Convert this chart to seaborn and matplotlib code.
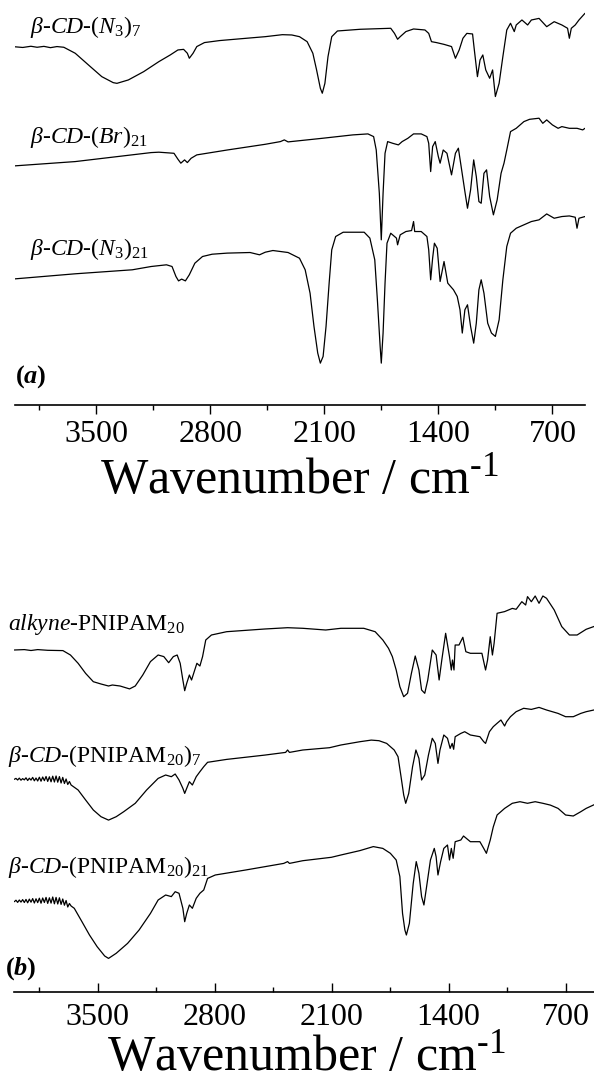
import matplotlib
matplotlib.use("Agg")
import matplotlib.pyplot as plt
import seaborn as sns
import pandas as pd

# ---------------------------------------------------------------------------
# FT-IR spectra (wavenumber in cm^-1, transmittance in stacked arbitrary units)
# ---------------------------------------------------------------------------

# (a) beta-CD-(N3)7
wn_cd_n3_7 = [4000, 3950, 3900, 3862, 3820, 3780, 3740, 3698, 3628, 3535, 3465, 3395, 3372,
              3302, 3208, 3115, 3045, 2998, 2963, 2940, 2928, 2905, 2882, 2835, 2742,
              2578, 2462, 2357, 2299, 2252, 2205, 2170, 2147, 2124, 2112, 2096, 2077,
              2054, 2019, 1879, 1692, 1669, 1650, 1634, 1599, 1552, 1482, 1459, 1442,
              1412, 1365, 1319, 1295, 1272, 1249, 1225, 1190, 1179, 1160, 1144, 1127,
              1109, 1085, 1067, 1050, 1027, 1004, 980, 957, 934, 922, 887, 852, 829,
              782, 735, 689, 642, 607, 596, 584, 560, 537, 500]
t_cd_n3_7 = [358.2, 357.5, 358.7, 357.7, 358.6, 357.3, 358.4, 357.7, 351.7, 338.3, 328.3, 322.3, 321.6,
             325.0, 333.3, 343.3, 350.0, 355.0, 355.6, 351.7, 346.7, 351.7, 358.4, 362.4, 364.4,
             366.7, 368.3, 370.3, 370.0, 368.3, 363.3, 351.7, 335.0, 316.7, 311.7, 321.6, 348.3,
             368.3, 374.0, 375.7, 376.7, 371.6, 365.7, 368.3, 373.4, 376.0, 375.0, 371.6, 363.3,
             362.4, 360.6, 358.4, 346.7, 355.0, 366.7, 371.6, 371.0, 355.0, 328.3, 345.0, 350.0,
             335.0, 326.7, 335.0, 308.4, 321.6, 348.3, 375.0, 381.7, 373.4, 380.0, 385.0, 380.0, 385.0,
             386.6, 378.3, 383.3, 380.0, 376.7, 366.7, 376.7, 380.0, 385.0, 391.7]

# (a) beta-CD-(Br)21
wn_cd_br_21 = [4000, 3628, 3162, 3115, 3022, 2998, 2980, 2957, 2940, 2917, 2882, 2695,
               2462, 2369, 2345, 2322, 2112, 1925, 1832, 1797, 1781, 1762, 1750, 1739,
               1727, 1711, 1680, 1645, 1622, 1587, 1552, 1505, 1470, 1459, 1447, 1435,
               1419, 1400, 1389, 1370, 1347, 1319, 1295, 1277, 1260, 1237, 1221, 1202,
               1183, 1167, 1151, 1137, 1120, 1104, 1085, 1062, 1039, 1015, 997, 980, 957,
               922, 875, 840, 782, 759, 735, 700, 665, 642, 596, 549, 514, 500]
t_cd_br_21 = [239.0, 243.3, 252.3, 252.7, 251.6, 245.7, 241.7, 245.0, 242.3, 246.6, 250.0, 254.9,
              260.6, 263.3, 265.0, 263.0, 266.6, 270.0, 271.0, 268.3, 254.9, 211.6, 165.0, 211.6,
              251.6, 263.3, 261.6, 260.0, 263.3, 266.6, 271.0, 271.0, 268.3, 261.6, 233.3, 258.3,
              263.3, 248.3, 241.7, 254.9, 251.6, 230.0, 251.6, 256.7, 238.3, 213.3, 196.6, 215.0,
              245.0, 228.3, 203.3, 201.6, 231.6, 235.0, 208.3, 190.0, 205.0, 231.6, 241.7, 254.9, 273.3,
              276.6, 283.3, 285.6, 286.7, 281.6, 285.0, 280.0, 276.6, 278.3, 276.6, 276.6, 275.0, 276.6]

# (a) beta-CD-(N3)21
wn_cd_n3_21 = [4000, 3628, 3278, 3162, 3068, 3034, 3010, 2994, 2975, 2952, 2928, 2894,
               2847, 2788, 2695, 2555, 2497, 2462, 2415, 2322, 2252, 2217, 2187, 2163,
               2140, 2124, 2107, 2089, 2070, 2054, 2030, 1984, 1855, 1820, 1790, 1774,
               1757, 1750, 1739, 1727, 1715, 1692, 1657, 1650, 1634, 1599, 1564, 1552,
               1545, 1505, 1470, 1459, 1447, 1435, 1424, 1407, 1389, 1365, 1342, 1307,
               1284, 1267, 1253, 1237, 1221, 1202, 1183, 1167, 1151, 1137, 1120, 1097,
               1074, 1050, 1027, 1004, 980, 957, 922, 875, 829, 782, 735, 689, 642, 596,
               560, 549, 537, 500]
t_cd_n3_21 = [125.9, 131.0, 135.0, 138.3, 140.0, 138.3, 128.3, 123.9, 125.7, 123.9, 130.0, 141.6,
              148.3, 150.6, 151.7, 152.3, 150.0, 152.6, 154.3, 152.3, 146.6, 135.0, 111.6, 78.3,
              51.7, 41.6, 48.3, 78.3, 121.6, 155.0, 168.3, 172.6, 172.6, 166.7, 145.0, 105.0,
              58.3, 41.6, 71.7, 121.6, 161.6, 171.6, 166.7, 160.0, 170.0, 173.3, 174.3, 183.3,
              173.3, 173.3, 168.3, 155.0, 125.0, 146.6, 161.6, 156.6, 123.3, 143.3, 121.6, 115.0,
              108.3, 95.0, 71.7, 95.0, 100.0, 78.3, 61.6, 81.6, 115.0, 125.0, 111.6, 81.6,
              71.7, 68.3, 84.9, 125.0, 158.3, 171.6, 176.6, 180.0, 183.3, 185.0, 190.9, 186.6, 188.3, 188.9,
              187.6, 176.6, 186.6, 188.3]

# (b) alkyne-PNIPAM20
wn_alk_pnipam = [4000, 3940, 3900, 3860, 3800, 3709, 3664, 3618, 3573, 3527, 3481, 3436,
                 3413, 3367, 3310, 3276, 3231, 3185, 3139, 3105, 3076, 3048, 3025, 3007,
                 2991, 2980, 2968, 2952, 2939, 2923, 2907, 2889, 2873, 2854, 2820, 2729,
                 2501, 2364, 2273, 2136, 2045, 1908, 1840, 1794, 1760, 1737, 1714, 1692,
                 1669, 1646, 1623, 1600, 1578, 1562, 1543, 1525, 1498, 1475, 1457, 1441,
                 1418, 1395, 1384, 1377, 1368, 1361, 1338, 1315, 1297, 1270, 1201, 1179,
                 1167, 1151, 1138, 1128, 1110, 1065, 1019, 996, 962, 939, 928, 905, 882,
                 859, 836, 814, 768, 723, 677, 631, 577, 520]
t_alk_pnipam = [342.0, 342.4, 341.5, 342.4, 341.7, 341.4, 337.0, 328.7, 318.6, 310.3, 308.0, 306.0,
                307.0, 306.0, 303.1, 306.0, 317.0, 330.4, 337.0, 335.4, 329.3, 335.4, 337.0, 328.7,
                312.0, 301.3, 308.7, 317.0, 312.0, 320.4, 328.7, 326.0, 335.4, 352.0, 357.0, 360.3,
                363.0, 364.3, 363.7, 362.0, 363.7, 363.7, 360.3, 352.0, 343.7, 335.4, 322.0, 305.3,
                295.3, 298.7, 318.6, 336.0, 322.0, 302.0, 298.7, 312.0, 342.0, 337.0, 312.0, 332.0,
                358.7, 335.4, 322.0, 332.0, 322.0, 347.0, 347.0, 354.7, 340.3, 338.7, 338.7, 322.0,
                332.0, 355.3, 337.0, 348.6, 378.7, 380.4, 383.6, 382.7, 390.3, 387.0, 395.4, 390.3, 396.0,
                388.7, 396.0, 393.7, 382.0, 365.4, 357.0, 357.0, 362.7, 366.1]

# (b) beta-CD-(PNIPAM20)7
wn_cd_pnipam_7 = [4000, 3990, 3980, 3970, 3960, 3950, 3940, 3930, 3920, 3910, 3900, 3890,
                  3880, 3870, 3860, 3850, 3840, 3830, 3820, 3810, 3800, 3790, 3780, 3770,
                  3760, 3750, 3740, 3730, 3720, 3710, 3700, 3690, 3680, 3670, 3660,
                  3618, 3573, 3527, 3481, 3436, 3390, 3345, 3276, 3208,
                  3139, 3094, 3060, 3037, 3014, 2991, 2980, 2968, 2952, 2934, 2911, 2889,
                  2866, 2843, 2729, 2501, 2376, 2364, 2353, 2273, 2113, 2045, 1931, 1863,
                  1817, 1771, 1726, 1703, 1685, 1669, 1657, 1639, 1616, 1596, 1578, 1562,
                  1543, 1521, 1498, 1480, 1464, 1452, 1429, 1407, 1391, 1379, 1370, 1361,
                  1327, 1304, 1270, 1213, 1190, 1179, 1156, 1133, 1110, 1087, 1065, 1053,
                  1030, 996, 951, 905, 859, 814, 745, 700, 654, 609, 577, 520]
t_cd_pnipam_7 = [212.7, 213.6, 212.0, 213.9, 211.8, 213.4, 212.1, 214.2, 211.5, 213.8, 211.9, 214.6,
                 211.2, 214.0, 211.0, 214.8, 210.8, 215.0, 211.3, 215.5, 210.6, 215.2, 210.2, 215.8,
                 210.0, 216.0, 209.8, 215.4, 209.0, 214.6, 208.5, 213.0, 207.5, 210.5, 207.0,
                 202.0, 192.0, 182.0, 175.3, 171.9, 175.3, 180.3, 188.7, 202.0,
                 213.6, 217.0, 215.3, 218.0, 212.0, 203.7, 198.6, 203.7, 210.3, 207.0, 215.3, 220.3,
                 225.3, 229.7, 232.6, 236.9, 239.6, 242.0, 239.6, 242.0, 244.3, 247.0, 250.3, 251.9,
                 251.3, 248.6, 242.0, 235.3, 215.3, 197.0, 188.7, 198.6, 225.3, 242.0, 233.6, 212.0,
                 217.0, 236.9, 253.7, 248.6, 228.6, 242.0, 257.0, 253.7, 243.6, 248.6, 242.7, 255.3,
                 258.6, 260.3, 257.0, 255.3, 250.3, 248.6, 260.3, 265.3, 268.7, 272.0, 266.0, 270.3,
                 275.3, 280.3, 283.7, 282.6, 284.6, 282.0, 278.6, 275.3, 275.3, 278.6, 280.3, 282.4]

# (b) beta-CD-(PNIPAM20)21
wn_cd_pnipam_21 = [4000, 3990, 3980, 3970, 3960, 3950, 3940, 3930, 3920, 3910, 3900, 3890,
                   3880, 3870, 3860, 3850, 3840, 3830, 3820, 3810, 3800, 3790, 3780, 3770,
                   3760, 3750, 3740, 3730, 3720, 3710, 3700, 3690, 3680, 3670, 3660,
                   3641, 3595, 3550, 3504, 3459, 3436, 3390, 3322, 3253,
                   3185, 3139, 3094, 3060, 3037, 3014, 2991, 2980, 2968, 2952, 2934, 2911,
                   2889, 2866, 2843, 2797, 2615, 2387, 2364, 2353, 2273, 2102, 2045, 1931,
                   1851, 1794, 1749, 1714, 1692, 1676, 1662, 1653, 1635, 1612, 1594, 1578,
                   1562, 1548, 1532, 1509, 1486, 1475, 1464, 1448, 1429, 1407, 1395, 1384,
                   1373, 1361, 1327, 1311, 1270, 1213, 1190, 1174, 1151, 1133, 1110, 1065,
                   1019, 973, 928, 882, 836, 791, 745, 700, 654, 609, 577, 520]
t_cd_pnipam_21 = [90.3, 91.8, 89.6, 92.0, 89.9, 92.4, 89.5, 92.6, 89.2, 92.9, 89.8, 93.4,
                  89.0, 93.2, 89.4, 93.8, 88.8, 94.0, 89.5, 94.6, 88.6, 94.2, 88.9, 95.0,
                  88.2, 94.6, 88.0, 94.2, 87.6, 93.0, 86.8, 91.5, 85.0, 88.5, 86.0,
                  83.7, 70.3, 57.0, 45.3, 36.0, 33.6, 38.7, 48.6, 62.0,
                  78.6, 92.0, 97.0, 95.4, 100.3, 98.7, 83.7, 70.3, 78.6, 87.0, 83.7, 93.7,
                  98.7, 102.0, 113.6, 117.0, 122.0, 128.6, 130.4, 128.6, 131.3, 134.7, 137.0, 141.4,
                  145.4, 143.6, 138.7, 132.0, 115.4, 78.6, 62.0, 57.0, 68.7, 108.7, 130.4, 118.7,
                  95.4, 87.0, 105.3, 132.0, 143.6, 135.3, 117.0, 130.4, 143.6, 147.0, 132.0, 143.6,
                  133.7, 150.3, 152.0, 156.0, 150.3, 150.3, 143.6, 138.7, 152.0, 165.0, 177.0, 183.6,
                  188.7, 190.3, 188.7, 190.3, 188.7, 186.9, 183.6, 177.0, 176.0, 180.3, 183.6, 188.0]

# Panel contents: (wavenumbers, transmittance, label, label position)
panel_a = [
    (wn_cd_n3_7, t_cd_n3_7, r"$\beta$-$CD$-($N_3$)$_7$", (3905, 372)),
    (wn_cd_br_21, t_cd_br_21, r"$\beta$-$CD$-($Br$)$_{21}$", (3905, 262)),
    (wn_cd_n3_21, t_cd_n3_21, r"$\beta$-$CD$-($N_3$)$_{21}$", (3905, 150)),
]
panel_b = [
    (wn_alk_pnipam, t_alk_pnipam, r"$alkyne$-PNIPAM$_{20}$", (4040, 362)),
    (wn_cd_pnipam_7, t_cd_pnipam_7, r"$\beta$-$CD$-(PNIPAM$_{20}$)$_7$", (4040, 230)),
    (wn_cd_pnipam_21, t_cd_pnipam_21, r"$\beta$-$CD$-(PNIPAM$_{20}$)$_{21}$", (4040, 119)),
]

major_ticks = [3500, 2800, 2100, 1400, 700]
minor_ticks = [3850, 3150, 2450, 1750, 1050]
tick_labels = ["3500", "2800", "2100", "1400", "700"]
x_title = r"Wavenumber / cm$^{\text{-}1}$"

sns.set_theme(style="white")
plt.rcParams["font.family"] = ["Liberation Serif", "DejaVu Serif"]
plt.rcParams["text.color"] = "black"
plt.rcParams["axes.labelcolor"] = "black"
plt.rcParams["xtick.color"] = "black"
plt.rcParams["xtick.labelcolor"] = "black"
plt.rcParams["mathtext.fontset"] = "custom"
plt.rcParams["mathtext.rm"] = "Liberation Serif"
plt.rcParams["mathtext.it"] = "Liberation Serif:italic"
plt.rcParams["mathtext.bf"] = "Liberation Serif:bold"
plt.rcParams["mathtext.bfit"] = "Liberation Serif:bold:italic"

W, H = 594, 1090
fig = plt.figure(figsize=(W / 100, H / 100), dpi=100)

ax_a = fig.add_axes([14.6 / W, 1 - 404.7 / H, (585 - 14.6) / W, 404.7 / H])
ax_b = fig.add_axes([14.3 / W, 1 - 992 / H, (599 - 14.3) / W, 440 / H])


def draw_panel(ax, spectra, ylim, tag, tag_pos, tick_dir, tick_pad, label_pad):
    for wn, tr, label, (lx, ly) in spectra:
        df = pd.DataFrame({"wavenumber": wn, "transmittance": tr})
        sns.lineplot(data=df, x="wavenumber", y="transmittance", ax=ax, sort=False,
                     estimator=None, color="black", linewidth=0.9)
        ax.text(lx, ly, label, fontsize=17, ha="left", va="baseline", color="black")
    ax.text(tag_pos[0], tag_pos[1], tag, fontsize=19, ha="left", va="baseline", color="black")
    ax.set_xlim(4000, 500)
    ax.set_ylim(*ylim)
    for side in ("top", "left", "right"):
        ax.spines[side].set_visible(False)
    ax.spines["bottom"].set_color("black")
    ax.spines["bottom"].set_linewidth(1.2)
    ax.set_yticks([])
    ax.set_ylabel("")
    ax.set_xticks(major_ticks)
    ax.set_xticklabels(tick_labels)
    ax.set_xticks(minor_ticks, minor=True)
    ax.tick_params(axis="x", which="major", direction=tick_dir, length=6.3, width=1.0,
                   color="black", labelcolor="black", labelsize=23, pad=tick_pad, bottom=True)
    ax.tick_params(axis="x", which="minor", direction=tick_dir, length=3.4, width=1.0,
                   color="black", bottom=True)
    ax.set_xlabel(x_title, fontsize=36, labelpad=label_pad, color="black")
    ax.set_facecolor("none")


draw_panel(ax_a, panel_a, (0, 405), r"$\mathbf{(}\mathbfit{a}\mathbf{)}$", (4000, 22),
           "out", 5, 6)
draw_panel(ax_b, panel_b, (0, 440), r"$\mathbf{(}\mathbfit{b}\mathbf{)}$", (4056, 17),
           "in", 8, 2)

fig.savefig("out.png", dpi=100, facecolor="white")
